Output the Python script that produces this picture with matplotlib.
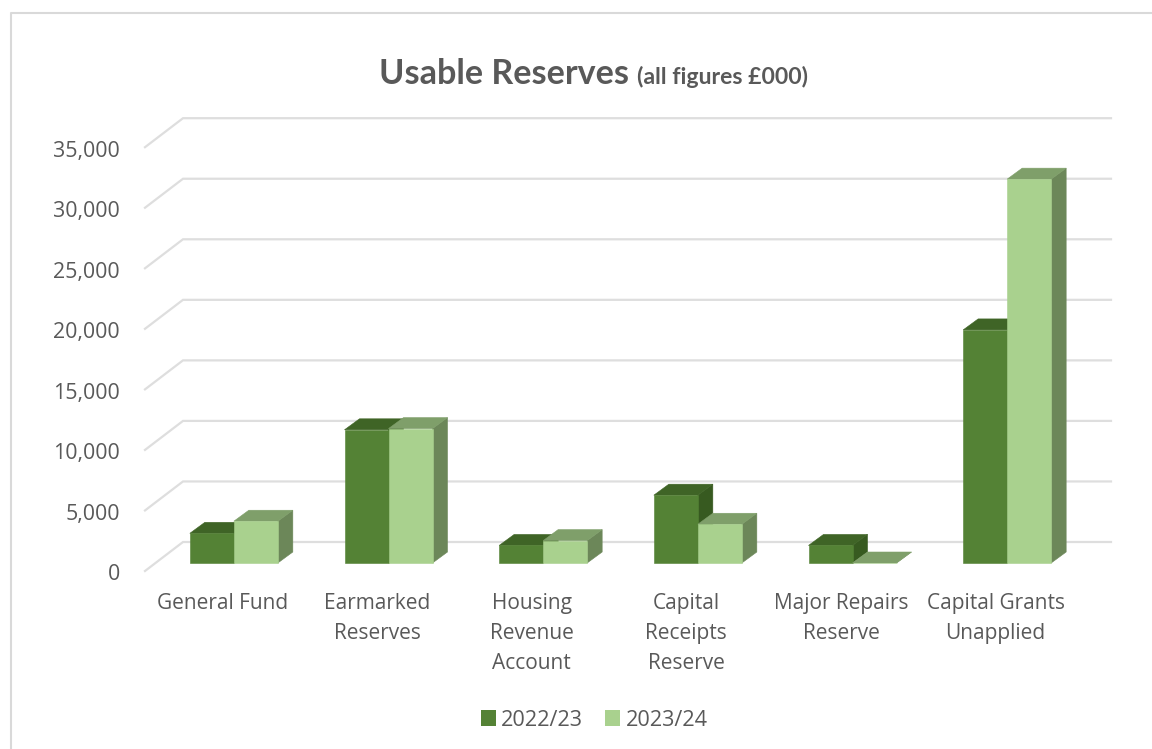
import matplotlib
matplotlib.use("Agg")
import matplotlib.pyplot as plt
from matplotlib.patches import Polygon
from matplotlib.lines import Line2D
from matplotlib.transforms import ScaledTranslation

categories = ["General Fund", "Earmarked\nReserves", "Housing\nRevenue\nAccount",
              "Capital\nReceipts\nReserve", "Major Repairs\nReserve", "Capital Grants\nUnapplied"]
vals_2223 = [2450, 11000, 1450, 5600, 1450, 19250]
vals_2324 = [3450, 11100, 1850, 3200, 0, 31700]
yticks = [0, 5000, 10000, 15000, 20000, 25000, 30000, 35000]
series_names = ["2022/23", "2023/24"]

# colores: frente, tapa, lado
dark = ("#548235", "#3f6426", "#375a20")
light = ("#a9d18e", "#7f9f6a", "#6c8759")
grid_col = "#dedede"
text_col = "#595959"
plt.rcParams["font.family"] = ["Open Sans", "DejaVu Sans"]

W, H = 1152, 749
fig = plt.figure(figsize=(W / 100, H / 100), dpi=100)
# eje frontal: x de 145 a 1073 px, y de 571 a 147 px
ax = fig.add_axes([145 / W, (H - 571) / H, 928 / W, 423.8 / H])
ax.set_xlim(-0.5, 5.5)
ax.set_ylim(0, 35000)

# profundidad en unidades de datos
px_x = 6 / 928
px_y = 35000 / 423.8
floor_dx, floor_dy = 38 * px_x, 29 * px_y
off_dx, off_dy = 11.5 * px_x, 8 * px_y
bar_dx, bar_dy = 15 * px_x, 11 * px_y
bar_w = 44 * px_x

# rejilla de la pared
for v in yticks:
    ax.plot([-0.5, -0.5 + floor_dx, 5.5 + floor_dx], [v, v + floor_dy, v + floor_dy],
            color=grid_col, lw=1.6, clip_on=False, zorder=1, solid_joinstyle="miter")


def bar3d(x0, val, cols, z):
    x = x0 + off_dx
    b = off_dy
    t = val + off_dy
    w = bar_w
    ax.add_patch(Polygon([(x + w, b), (x + w + bar_dx, b + bar_dy), (x + w + bar_dx, t + bar_dy), (x + w, t)],
                         fc=cols[2], ec=cols[2], lw=0.4, zorder=z, clip_on=False))
    ax.add_patch(Polygon([(x, t), (x + bar_dx, t + bar_dy), (x + w + bar_dx, t + bar_dy), (x + w, t)],
                         fc=cols[1], ec=cols[1], lw=0.4, zorder=z, clip_on=False))
    ax.bar(x, val, w, bottom=b, align="edge", color=cols[0], ec=cols[0], lw=0.4, zorder=z + 0.1, clip_on=False)


for i in range(len(categories)):
    bar3d(i - bar_w, vals_2223[i], dark, 3 + i)
    bar3d(i, vals_2324[i], light, 3.5 + i)

ax.set_xticks(range(len(categories)))
ax.set_xticklabels(categories, fontsize=15, color=text_col, linespacing=1.57)
ax.set_yticks(yticks)
ax.set_yticklabels(["{:,}".format(v) for v in yticks], fontsize=15.4, color=text_col)
ax.tick_params(axis="x", length=0, pad=16)
ax.tick_params(axis="y", length=0, pad=18)
for lab in ax.get_yticklabels():
    lab.set_transform(lab.get_transform() + ScaledTranslation(0, -1.5 / 100, fig.dpi_scale_trans))
for s in ax.spines.values():
    s.set_visible(False)
ax.patch.set_alpha(0)

# titulo
fig.text(379 / W, 1 - 84 / H, "Usable Reserves", fontsize=24.6, fontweight="bold", color=text_col,
         family=["Lato", "DejaVu Sans"], ha="left", va="baseline")
fig.text(637 / W, 1 - 84 / H, "(all figures £000)", fontsize=16.6, fontweight="bold", color=text_col,
         family=["Lato", "DejaVu Sans"], ha="left", va="baseline")

# leyenda
handles = [plt.Rectangle((0, 0), 1, 1, fc=dark[0]), plt.Rectangle((0, 0), 1, 1, fc=light[0])]
fig.legend(handles, series_names, loc="center", bbox_to_anchor=(594 / W, 1 - 720 / H), ncol=2, frameon=False,
           fontsize=15.6, labelcolor=text_col, handlelength=0.7, handleheight=0.7,
           handletextpad=0.25, columnspacing=1.0)

# borde del grafico
fig.add_artist(Line2D([11 / W, 11 / W, 1], [0, 1 - 13 / H, 1 - 13 / H], color="#d9d9d9", lw=1.5))

fig.savefig("out.png", dpi=100)
